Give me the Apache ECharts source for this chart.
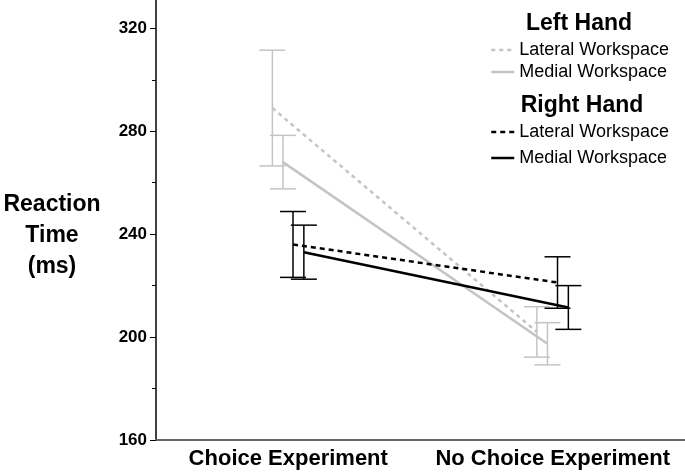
<!DOCTYPE html>
<html>
<head>
<meta charset="utf-8">
<script src="https://cdn.jsdelivr.net/npm/echarts@6/dist/echarts.min.js"></script>
<style>html,body{margin:0;padding:0;background:#fff}#c{width:685px;height:473px}</style>
</head>
<body>
<div id="c"></div>
<script>
// ---- data ----
const categories = ['Choice Experiment', 'No Choice Experiment'];
const leftLateral = [289, 202];
const leftLateralErr = [22.5, 9.8];
const leftMedial = [268, 197.4];
const leftMedialErr = [10.4, 8.2];
const rightLateral = [236, 221.2];
const rightLateralErr = [12.8, 10];
const rightMedial = [233, 211.5];
const rightMedialErr = [10.5, 8.5];
const yTicks = [160, 200, 240, 280, 320];
const yMinorTicks = [180, 220, 260, 300];

// ---- styling / layout ----
const FONT = '"Liberation Sans", Arial, Helvetica, sans-serif';
const GRAY = '#c4c4c4';
const BLACK = '#000000';
const seriesDefs = [
  {name: 'Left Hand|Lateral Workspace', vals: leftLateral, err: leftLateralErr, color: GRAY, dash: [4, 4], dodge: -0.06},
  {name: 'Left Hand|Medial Workspace', vals: leftMedial, err: leftMedialErr, color: GRAY, dash: 'solid', dodge: -0.02},
  {name: 'Right Hand|Lateral Workspace', vals: rightLateral, err: rightLateralErr, color: BLACK, dash: [5, 4], dodge: 0.018},
  {name: 'Right Hand|Medial Workspace', vals: rightMedial, err: rightMedialErr, color: BLACK, dash: 'solid', dodge: 0.059}
];

const series = [];
seriesDefs.forEach(function (d) {
  const color = d.color;
  series.push({
    type: 'custom',
    name: d.name + '_err',
    xAxisIndex: 1,
    yAxisIndex: 0,
    silent: true,
    z: 1,
    data: d.vals.map(function (v, i) { return [i + d.dodge, v - d.err[i], v + d.err[i]]; }),
    renderItem: function (params, api) {
      const lo = api.coord([api.value(0), api.value(1)]);
      const hi = api.coord([api.value(0), api.value(2)]);
      const hw = 13;
      const st = {stroke: color, lineWidth: 1.5, fill: null};
      return {type: 'group', children: [
        {type: 'line', shape: {x1: lo[0], y1: lo[1], x2: hi[0], y2: hi[1]}, style: st},
        {type: 'line', shape: {x1: lo[0] - hw, y1: lo[1], x2: lo[0] + hw, y2: lo[1]}, style: st},
        {type: 'line', shape: {x1: hi[0] - hw, y1: hi[1], x2: hi[0] + hw, y2: hi[1]}, style: st}
      ]};
    }
  });
  series.push({
    type: 'line',
    name: d.name,
    xAxisIndex: 1,
    yAxisIndex: 0,
    symbol: 'none',
    z: 2,
    lineStyle: {color: color, width: 2.5, type: d.dash},
    itemStyle: {color: color},
    data: d.vals.map(function (v, i) { return [i + d.dodge, v]; })
  });
});

function legendItems(defs) {
  return defs.map(function (d) {
    return {name: d.name, lineStyle: {color: d.color, width: 2.5, type: d.dash}, itemStyle: {color: d.color, opacity: 0}};
  });
}

const option = {
  animation: false,
  backgroundColor: '#ffffff',
  textStyle: {fontFamily: FONT},
  grid: {left: 156, right: 0, top: 0, bottom: 33, containLabel: false},
  xAxis: [
    {
      type: 'category', data: categories, boundaryGap: true,
      axisLine: {show: true, onZero: false, lineStyle: {color: '#666666', width: 2}},
      axisTick: {show: false},
      axisLabel: {interval: 0, color: '#000', fontFamily: FONT, fontWeight: 'bold', fontSize: 22, margin: 8},
      splitLine: {show: false}
    },
    {type: 'value', min: -0.5, max: 1.5, show: false}
  ],
  yAxis: [
    {
      type: 'value', min: 160, max: 331, interval: 40,
      axisLine: {show: true, onZero: false, lineStyle: {color: '#000', width: 1.5}},
      axisTick: {show: true, length: 6, customValues: yTicks, lineStyle: {color: '#000', width: 1}},
      axisLabel: {show: true, customValues: yTicks, color: '#000', fontFamily: FONT, fontWeight: 'bold', fontSize: 17, margin: 9},
      splitLine: {show: false}
    },
    {
      type: 'value', min: 160, max: 331, interval: 40,
      axisLine: {show: false, onZero: false},
      axisTick: {show: true, length: 4, customValues: yMinorTicks, lineStyle: {color: '#000', width: 1}},
      axisLabel: {show: false},
      splitLine: {show: false},
      position: 'left'
    }
  ],
  legend: [
    {
      orient: 'vertical', left: 490, top: 41, padding: 0, itemWidth: 23, itemHeight: 14, itemGap: 4,
      data: legendItems(seriesDefs.slice(0, 2)),
      formatter: function (n) { return n.split('|')[1]; },
      textStyle: {fontFamily: FONT, fontSize: 18, color: '#000'},
      selectedMode: false
    },
    {
      orient: 'vertical', left: 490, top: 123, padding: 0, itemWidth: 23, itemHeight: 14, itemGap: 8,
      data: legendItems(seriesDefs.slice(2, 4)),
      formatter: function (n) { return n.split('|')[1]; },
      textStyle: {fontFamily: FONT, fontSize: 18, color: '#000'},
      selectedMode: false
    }
  ],
  graphic: [
    {type: 'text', x: 579, y: 24, style: {text: 'Left Hand', fontFamily: FONT, fontWeight: 'bold', fontSize: 23, fill: '#000', textAlign: 'center', textVerticalAlign: 'middle'}},
    {type: 'text', x: 582, y: 106, style: {text: 'Right Hand', fontFamily: FONT, fontWeight: 'bold', fontSize: 23, fill: '#000', textAlign: 'center', textVerticalAlign: 'middle'}},
    {type: 'text', x: 52, y: 236, style: {text: 'Reaction\nTime\n(ms)', fontFamily: FONT, fontWeight: 'bold', fontSize: 23, lineHeight: 31, fill: '#000', textAlign: 'center', textVerticalAlign: 'middle'}}
  ],
  series: series
};

const chart = echarts.init(document.getElementById('c'), null, {renderer: 'canvas'});
chart.setOption(option);
</script>
</body>
</html>
